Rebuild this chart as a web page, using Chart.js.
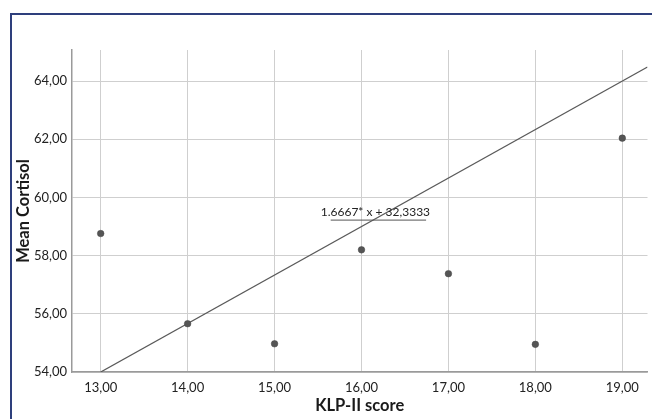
<!DOCTYPE html>
<html>
<head>
<meta charset="utf-8">
<script src="https://cdn.jsdelivr.net/npm/chart.js@4"></script>
<style>
  html, body { margin: 0; padding: 0; background: #fff; }
  #wrap { position: relative; width: 652px; height: 419px; overflow: hidden; }
  #frame { position: absolute; left: 10px; top: 13px; width: 700px; height: 500px;
           border-left: 2px solid #2e3f7c; border-top: 2px solid #2e3f7c; box-sizing: border-box; }
  canvas { position: absolute; left: 0; top: 0; }
</style>
</head>
<body>
<div id="wrap">
  <div id="frame"></div>
  <canvas id="myChart" width="652" height="419"></canvas>
</div>
<script>
// data
const klpScores = [13, 14, 15, 16, 17, 18, 19];
const meanCortisol = [58.76, 55.66, 54.97, 58.2, 57.38, 54.95, 62.04];
const xTicks = [13, 14, 15, 16, 17, 18, 19];
const yTicks = [54, 56, 58, 60, 62, 64];
const fitSlope = 1.6667;
const fitIntercept = 32.3333;
const fitLabel = '1.6667* x + 32,3333';

const xMin = 12.67, xMax = 19.29;
const yMin = 54, yMax = 65.07;

const fmt = v => v.toFixed(2).replace('.', ',');

// label with underline, anchored at a data position
const fitLabelPlugin = {
  id: 'fitLabel',
  afterDatasetsDraw(chart) {
    const { ctx, scales } = chart;
    const x = scales.x.getPixelForValue(16.16);
    const y = scales.y.getPixelForValue(59.48);
    ctx.save();
    ctx.font = '12px Lato';
    ctx.fillStyle = '#222';
    ctx.textAlign = 'center';
    ctx.textBaseline = 'middle';
    ctx.fillText(fitLabel, x, y);
    const w = ctx.measureText(fitLabel).width;
    ctx.strokeStyle = '#555';
    ctx.lineWidth = 1;
    ctx.beginPath();
    ctx.moveTo(x - w / 2 + 10, y + 7.5);
    ctx.lineTo(x + w / 2 - 4, y + 7.5);
    ctx.stroke();
    ctx.restore();
  }
};

new Chart(document.getElementById('myChart'), {
  type: 'scatter',
  data: {
    datasets: [
      {
        label: 'Mean Cortisol',
        data: klpScores.map((x, i) => ({ x, y: meanCortisol[i] })),
        backgroundColor: '#555',
        borderColor: '#444',
        borderWidth: 0.5,
        pointRadius: 3.3
      },
      {
        label: 'fit',
        type: 'line',
        data: [13, xMax].map(x => ({ x, y: fitSlope * x + fitIntercept })),
        borderColor: '#5a5a5a',
        borderWidth: 1.3,
        pointRadius: 0,
        fill: false
      }
    ]
  },
  options: {
    responsive: false,
    animation: false,
    layout: { padding: { left: 0, top: 50, right: 0, bottom: 0 } },
    plugins: { legend: { display: false }, tooltip: { enabled: false } },
    scales: {
      x: {
        type: 'linear',
        min: xMin,
        max: xMax,
        afterBuildTicks: s => { s.ticks = xTicks.map(v => ({ value: v })); },
        afterFit: s => { s.height = 47; },
        grid: { color: '#cfcfcf', drawTicks: false },
        border: { color: '#9a9a9a', width: 1.5 },
        ticks: { padding: 8, color: '#222', font: { family: 'Lato', size: 13 }, callback: v => fmt(v), maxRotation: 0 },
        title: { display: true, text: 'KLP-II score', color: '#1a1a1a',
                 font: { family: 'Lato', size: 16.5, weight: 'bold' }, padding: { top: 0, bottom: 3 } }
      },
      y: {
        min: yMin,
        max: yMax,
        afterBuildTicks: s => { s.ticks = yTicks.map(v => ({ value: v })); },
        afterFit: s => { s.width = 72; },
        grid: { color: '#cfcfcf', drawTicks: false },
        border: { color: '#9a9a9a', width: 1.5 },
        ticks: { padding: 5, color: '#222', font: { family: 'Lato', size: 13 }, callback: v => fmt(v) },
        title: { display: true, text: 'Mean Cortisol', color: '#1a1a1a',
                 font: { family: 'Lato', size: 16.5, weight: 'bold' }, padding: { top: 14, bottom: 0 } }
      }
    }
  },
  plugins: [fitLabelPlugin]
});
</script>
</body>
</html>
